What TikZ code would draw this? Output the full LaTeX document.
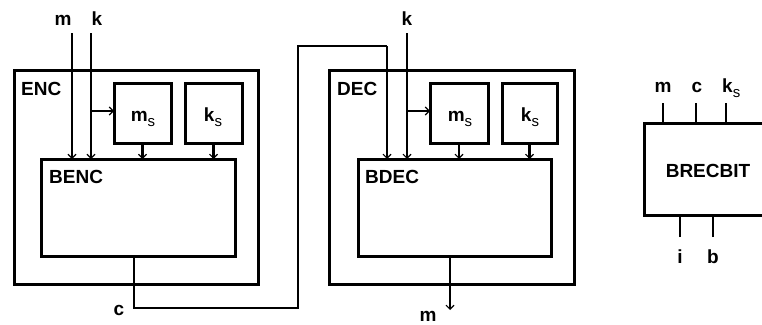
\documentclass[tikz,border=0pt]{standalone}
\usepackage{fontspec}
\setmainfont{Liberation Sans}
\usetikzlibrary{arrows.meta}
\newcommand\mysubs{\raisebox{-5pt}{\fontsize{15}{15}\selectfont\mdseries s}}
\begin{document}
\begin{tikzpicture}[x=1pt,y=-1pt,
  box/.style={draw, line width=3pt, inner sep=0pt, outer sep=0pt, anchor=north west},
  lbl/.style={font=\fontsize{19}{19}\selectfont\bfseries, inner sep=0pt, anchor=base west},
  clbl/.style={lbl, anchor=base},
  wire/.style={line width=2.4pt},
  arr/.style={wire, -{Straight Barb[length=4pt, width=8pt, line width=1.1pt]}}]
\path[use as bounding box, clip] (0,0) rectangle (762,324);

% ---------- ENC ----------
\node[box, minimum width=244pt, minimum height=214pt] (enc) at (14,70) {};
\node[box, minimum width=57pt, minimum height=60pt] (encms) at (114,83) {};
\node[box, minimum width=57pt, minimum height=60pt] (encks) at (185,83) {};
\node[box, minimum width=194pt, minimum height=97pt] (benc) at (41,159) {};
\node[lbl] (encl) at (21,95) {ENC};
\node[lbl] (bencl) at (49,183) {BENC};
\node[clbl] (encmsl) at (143,121) {m\mysubs};
\node[clbl] (encksl) at (213,121) {k\mysubs};

\coordinate (min) at (72,33);
\coordinate (kin) at (91,33);
\node[clbl] (minl) at (63,25) {m};
\node[clbl] (kinl) at (97,25) {k};
\draw[arr] (min) -- (min |- benc.north);
\draw[arr] (kin) -- (kin |- benc.north);
\coordinate (kbr) at (91,111);
\draw[arr] (kbr) -- (kbr -| encms.west);
\draw[arr] (encms.south) -- (encms.south |- benc.north);
\draw[arr] (encks.south) -- (encks.south |- benc.north);

% ---------- wire c ----------
\coordinate (c0) at (134,256);
\coordinate (c1) at (134,308);
\coordinate (c2) at (298,308);
\coordinate (c3) at (298,46);
\coordinate (c4) at (387,46);
\node[clbl] (cl) at (119,315) {c};

% ---------- DEC ----------
\node[box, minimum width=245pt, minimum height=214pt] (dec) at (329,70) {};
\node[box, minimum width=58pt, minimum height=60pt] (decms) at (430,83) {};
\node[box, minimum width=55pt, minimum height=60pt] (decks) at (502,83) {};
\node[box, minimum width=193pt, minimum height=97pt] (bdec) at (358,159) {};
\node[lbl] (decl) at (337,95) {DEC};
\node[lbl] (bdecl) at (365,183) {BDEC};
\node[clbl] (decmsl) at (460,121) {m\mysubs};
\node[clbl] (decksl) at (530,121) {k\mysubs};

\draw[wire, line join=miter] (c0) -- (c1) -- (c2) -- (c3) -- (c4);
\draw[arr] (c4) -- (c4 |- bdec.north);

\coordinate (dkin) at (407,33);
\node[clbl] (dkinl) at (407,25) {k};
\draw[arr] (dkin) -- (dkin |- bdec.north);
\coordinate (dkbr) at (407,111);
\draw[arr] (dkbr) -- (dkbr -| decms.west);
\draw[arr] (decms.south) -- (decms.south |- bdec.north);
\draw[arr] (decks.south) -- (decks.south |- bdec.north);

\coordinate (mo0) at (450,256);
\coordinate (mo1) at (450,310);
\draw[arr] (mo0) -- (mo1);
\node[clbl] (mol) at (428,321) {m};

% ---------- BRECBIT ----------
\node[box, minimum width=140pt, minimum height=92pt] (brec) at (644,123) {};
\node[clbl] (brecl) at (708,177) {BRECBIT};
\coordinate (pm) at (663,103);
\coordinate (pc) at (696,103);
\coordinate (pk) at (726,103);
\coordinate (pi) at (680,237);
\coordinate (pb) at (713,237);
\draw[wire] (pm) -- (pm |- brec.north);
\draw[wire] (pc) -- (pc |- brec.north);
\draw[wire] (pk) -- (pk |- brec.north);
\draw[wire] (pi) -- (pi |- brec.south);
\draw[wire] (pb) -- (pb |- brec.south);
\node[clbl] (pml) at (663,92) {m};
\node[clbl] (pcl) at (697,92) {c};
\node[lbl] (pkl) at (722,92) {k\mysubs};
\node[clbl] (pil) at (680,263) {i};
\node[clbl] (pbl) at (713,263) {b};
\end{tikzpicture}
\end{document}
